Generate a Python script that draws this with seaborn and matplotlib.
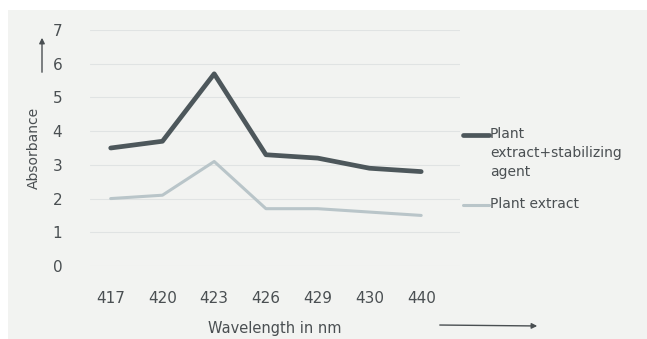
import matplotlib
matplotlib.use("Agg")
import matplotlib.pyplot as plt
import seaborn as sns
import pandas as pd
from matplotlib.patches import Rectangle, FancyArrowPatch
from matplotlib.lines import Line2D

# Data
wavelengths = ["417", "420", "423", "426", "429", "430", "440"]
stabilized = [3.5, 3.7, 5.7, 3.3, 3.2, 2.9, 2.8]
plant_only = [2.0, 2.1, 3.1, 1.7, 1.7, 1.6, 1.5]
series_names = ["Plant\nextract+stabilizing\nagent", "Plant extract"]
y_ticks = [0, 1, 2, 3, 4, 5, 6, 7]
colors = ["#4d575b", "#b9c5c9"]

df = pd.DataFrame({
    "wavelength": wavelengths * 2,
    "absorbance": stabilized + plant_only,
    "series": [series_names[0]] * len(wavelengths) + [series_names[1]] * len(wavelengths),
})

sns.set_theme(style="white")
plt.rcParams["font.family"] = ["DejaVu Sans"]
text_col = "#4a4f52"

fig = plt.figure(figsize=(6.47, 3.39), dpi=100, facecolor="white")
# scanned page tint
fig.patches.append(Rectangle((8 / 647, 0), 1, 1 - 10 / 339, transform=fig.transFigure,
                             facecolor="#f2f3f1", edgecolor="none", zorder=-10))

ax = fig.add_axes([90 / 647, 1 - 266 / 339, 370 / 647, 236 / 339])
ax.set_facecolor("none")

sns.lineplot(data=df, x="wavelength", y="absorbance", hue="series",
             palette=colors, ax=ax, sort=False, legend=False)
ax.lines[0].set_linewidth(3.4)
ax.lines[1].set_linewidth(2.2)

ax.set_ylim(0, 7)
ax.set_xlim(-0.4, 6.75)
ax.set_yticks(y_ticks)
for y in y_ticks:
    ax.axhline(y, color="#e0e3e3", lw=0.8, zorder=0)
for s in ax.spines.values():
    s.set_visible(False)

ax.tick_params(axis="x", pad=18, labelsize=11, colors=text_col, length=0)
ax.tick_params(axis="y", pad=20, labelsize=11, colors=text_col, length=0)
ax.set_xlabel("Wavelength in nm", fontsize=10.5, color=text_col, labelpad=11)
ax.set_ylabel("Absorbance", fontsize=10, color=text_col, labelpad=8)

# legend, handle aligned with the first text line as in the original
leg_y = [135, 205]
for col, lw, yy, name in zip(colors, [3.4, 2.2], leg_y, series_names):
    fig.lines.append(Line2D([463 / 647, 489 / 647], [1 - yy / 339] * 2,
                            transform=fig.transFigure, color=col, lw=lw))
    fig.text(490 / 647, 1 - (yy - 8) / 339, name, fontsize=10, color=text_col,
             va="top", ha="left", linespacing=1.45)

# axis arrows
fig.patches.append(FancyArrowPatch((42 / 647, 1 - 75 / 339), (42 / 647, 1 - 35 / 339),
                                   transform=fig.transFigure, arrowstyle="-|>",
                                   mutation_scale=8, color=text_col, lw=1))
fig.patches.append(FancyArrowPatch((437 / 647, 1 - 325 / 339), (540 / 647, 1 - 326 / 339),
                                   transform=fig.transFigure, arrowstyle="-|>",
                                   mutation_scale=8, color=text_col, lw=1))

fig.savefig("out.png", dpi=100, facecolor=fig.get_facecolor())
